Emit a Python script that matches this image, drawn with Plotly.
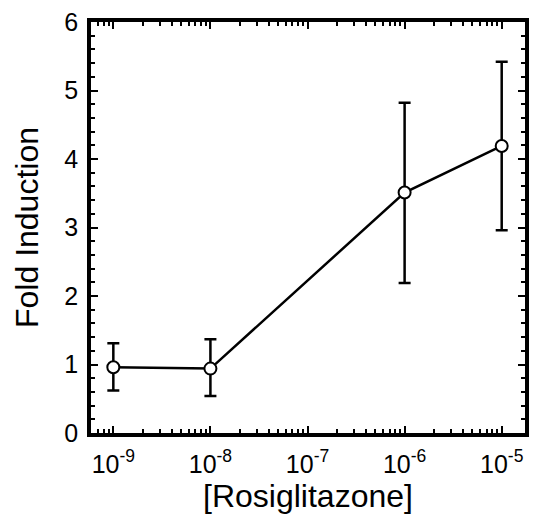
import plotly.graph_objects as go

concentration = [1e-9, 1e-8, 1e-6, 1e-5]
fold_induction = [0.96, 0.94, 3.51, 4.19]
err_plus = [0.35, 0.43, 1.31, 1.23]
err_minus = [0.34, 0.40, 1.32, 1.23]

x_tickvals = [1e-9, 1e-8, 1e-7, 1e-6, 1e-5]
x_ticktext = ["10<sup>-9</sup>", "10<sup>-8</sup>", "10<sup>-7</sup>", "10<sup>-6</sup>", "10<sup>-5</sup>"]
y_tickvals = [0, 1, 2, 3, 4, 5, 6]

fig = go.Figure()
fig.add_trace(go.Scatter(
    x=concentration, y=fold_induction,
    mode="lines+markers",
    line=dict(color="black", width=2.5),
    marker=dict(symbol="circle", size=12, color="white", line=dict(color="black", width=2)),
    error_y=dict(type="data", array=err_plus, arrayminus=err_minus, visible=True,
                 color="black", thickness=2.5, width=6),
    showlegend=False,
))

font = "Liberation Sans, Arial, sans-serif"
fig.update_layout(
    width=538, height=517,
    margin=dict(l=91, r=13, t=22, b=84),
    paper_bgcolor="white", plot_bgcolor="white",
    font=dict(family=font, color="black", size=25),
    xaxis=dict(
        type="log", range=[-9.23, -4.76],
        tickvals=x_tickvals, ticktext=x_ticktext,
        ticks="inside", ticklen=7, tickwidth=2, tickcolor="black",
        showline=True, linewidth=3.5, linecolor="black", mirror="allticks",
        showgrid=False, zeroline=False, automargin=False,
        minor=dict(ticks="inside", ticklen=4, tickwidth=1.5, tickcolor="black", dtick="D1", showgrid=False),
        tickfont=dict(size=25), ticklabelstandoff=6,
        title=dict(text="[Rosiglitazone]", font=dict(size=32), standoff=2),
    ),
    yaxis=dict(
        range=[0, 6], tickvals=y_tickvals,
        ticks="inside", ticklen=7, tickwidth=2, tickcolor="black",
        showline=True, linewidth=3.5, linecolor="black", mirror="allticks",
        showgrid=False, zeroline=False, automargin=False,
        minor=dict(ticks="inside", ticklen=4, tickwidth=1.5, tickcolor="black", dtick=0.2, showgrid=False),
        tickfont=dict(size=25), ticklabelstandoff=4,
        title=dict(text="Fold Induction", font=dict(size=32), standoff=17),
    ),
)

fig.write_html("out.html")
